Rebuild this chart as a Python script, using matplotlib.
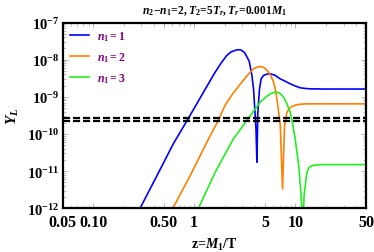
import matplotlib
matplotlib.use("Agg")
import matplotlib.pyplot as plt
from matplotlib.ticker import FixedLocator, LogLocator, NullFormatter

plt.rcParams['mathtext.fontset'] = 'custom'
plt.rcParams['mathtext.rm'] = 'Liberation Serif:bold'
plt.rcParams['mathtext.bf'] = 'Liberation Serif:bold'
plt.rcParams['mathtext.it'] = 'Liberation Serif:bold:italic'
plt.rcParams['font.family'] = ['Liberation Serif', 'DejaVu Serif']

# ---- data ----
z_blue = [0.291, 0.427, 0.622, 0.857, 1.06, 1.30, 1.61, 1.85, 2.10, 2.30, 2.60, 2.74, 2.90, 3.15, 3.50,
          3.72, 3.86, 4.08, 4.17, 4.25, 4.42, 4.59, 4.84, 5.25, 5.65, 6.30, 7.08, 8.0, 8.89, 10.0, 11.2,
          12.5, 14.0, 20.0, 50.0]
y_blue = [1e-12, 7.5e-12, 5.5e-11, 2.4e-10, 6.5e-10, 1.7e-9, 4.6e-9, 8.2e-9, 1.30e-8, 1.6e-8, 1.82e-8,
          1.85e-8, 1.82e-8, 1.55e-8, 9.0e-9, 3.75e-9, 1.64e-9, 1.37e-10, 1.74e-11, 3.5e-10, 1.64e-9,
          3.05e-9, 3.75e-9, 4.1e-9, 4.17e-9, 3.8e-9, 3.05e-9, 2.6e-9, 2.24e-9, 1.95e-9, 1.75e-9, 1.68e-9,
          1.64e-9, 1.62e-9, 1.62e-9]

z_orange = [0.614, 0.910, 1.31, 1.74, 2.02, 2.40, 2.85, 3.30, 3.86, 4.20, 4.56, 4.95, 5.43, 5.75, 6.09,
            6.40, 6.67, 7.10, 7.47, 7.82, 8.26, 8.80, 9.6, 11.0, 13.0, 50.0]
y_orange = [1e-12, 7.5e-12, 5.5e-11, 2.4e-10, 6.0e-10, 1.2e-9, 2.2e-9, 3.6e-9, 5.7e-9, 6.3e-9, 6.56e-9,
            6.0e-9, 4.63e-9, 3.6e-9, 2.49e-9, 1.4e-9, 6.56e-10, 1.68e-10, 3.3e-12, 1.68e-10, 3.87e-10,
            5.0e-10, 5.8e-10, 6.3e-10, 6.47e-10, 6.47e-10]

z_green = [1.10, 1.61, 2.44, 3.00, 3.52, 4.49, 5.10, 5.65, 6.10, 6.58, 7.10, 7.64, 8.20, 8.89, 9.40, 9.97,
           10.8, 11.4, 11.9, 12.2, 13.0, 13.7, 14.6, 17.6, 50.0]
y_green = [1e-12, 9.3e-12, 7.4e-11, 1.6e-10, 2.9e-10, 7.2e-10, 9.8e-10, 1.21e-9, 1.3e-9, 1.34e-9,
           1.22e-9, 9.8e-10, 6.8e-10, 3.87e-10, 1.9e-10, 7.4e-11, 1.41e-11, 2.2e-12, 3e-13, 2.2e-12,
           9.3e-12, 1.25e-11, 1.41e-11, 1.5e-11, 1.5e-11]

obs_levels = [2.63e-10, 2.2e-10]

labels = [r'$\mathit{n_1=1}$', r'$\mathit{n_1=2}$', r'$\mathit{n_1=3}$']
colors = ['#0000ff', '#ff8000', '#22ee22']

xticks = [0.05, 0.10, 0.50, 1, 5, 10, 50]
xticklabels = ['0.05', '0.10', '0.50', '1', '5', '10', '50']
yticks = [1e-12, 1e-11, 1e-10, 1e-9, 1e-8, 1e-7]
yticklabels = [r'$10^{-12}$', r'$10^{-11}$', r'$10^{-10}$', r'$10^{-9}$', r'$10^{-8}$', r'$10^{-7}$']

fig = plt.figure(figsize=(3.74, 2.53), dpi=100)
ax = fig.add_axes([0.1677, 0.1727, 0.9786 - 0.1677, 0.9071 - 0.1727])

for zz, yy, c, lab in zip([z_blue, z_orange, z_green], [y_blue, y_orange, y_green], colors, labels):
    ax.plot(zz, yy, color=c, lw=1.2, label=lab)

for lv in obs_levels:
    ax.axhline(lv, color='black', lw=1.6, ls=(0, (3.2, 1.3)))

ax.set_xscale('log')
ax.set_yscale('log')
ax.set_xlim(0.05, 50)
ax.set_ylim(1e-12, 1e-7)

ax.xaxis.set_major_locator(FixedLocator(xticks))
ax.set_xticklabels(xticklabels, fontsize=11.5, fontweight='bold')
ax.xaxis.set_minor_locator(LogLocator(base=10, subs=range(1, 10)))
ax.xaxis.set_minor_formatter(NullFormatter())
ax.yaxis.set_major_locator(FixedLocator(yticks))
ax.set_yticklabels(yticklabels, fontsize=10.5)
ax.yaxis.set_minor_locator(LogLocator(base=10, subs=range(1, 10)))
ax.yaxis.set_minor_formatter(NullFormatter())

ax.tick_params(which='both', direction='in', top=True, right=True, color='#aaaaaa')
ax.tick_params(which='major', length=3.5, width=0.6)
ax.tick_params(axis='x', which='major', pad=4)
ax.tick_params(axis='y', which='major', pad=2.5)
ax.tick_params(which='minor', length=2, width=0.5)

for s in ax.spines.values():
    s.set_linewidth(1.6)

ax.set_xlabel(r'z=$M_1$/T', fontsize=10, fontweight='bold', labelpad=4)
ax.set_ylabel(r'$Y_L$', fontsize=11, labelpad=4)
ax.set_title(r'$n_2\!-\!n_1\!=\!2,T_2\!=\!5T_r,T_r\!=\!0.001M_1$', fontsize=8.3, pad=7)

leg = ax.legend(loc='upper left', frameon=False, fontsize=8.5, handlelength=1.6,
                labelspacing=0.6, borderaxespad=0.2, handletextpad=0.7)
for t in leg.get_texts():
    t.set_color('#800080')

fig.savefig('out.png', dpi=100)
